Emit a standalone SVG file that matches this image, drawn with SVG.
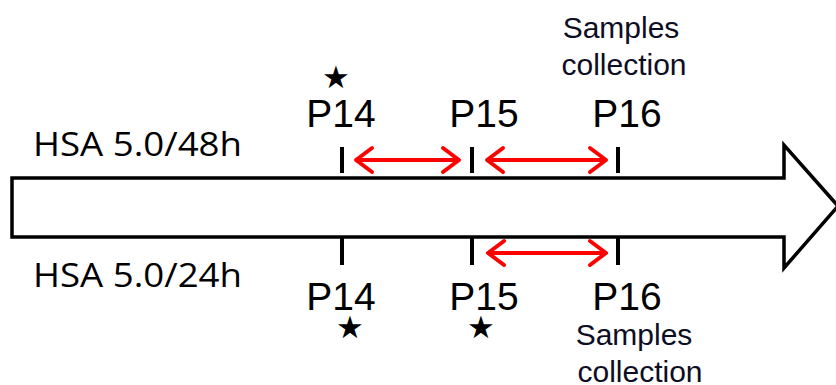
<svg xmlns="http://www.w3.org/2000/svg" width="836" height="385" viewBox="0 0 836 385">
  <defs>
    <style>
      .hsa { font-family: "Open Sans", "Liberation Sans", sans-serif; font-size: 32px; fill: #000; }
      .pl { font-family: "Liberation Sans", Arial, sans-serif; font-size: 39px; fill: #000; text-anchor: middle; }
      .sc { font-family: "Liberation Sans", Arial, sans-serif; font-size: 30px; fill: #0d0d24; text-anchor: middle; }
      .star { font-family: "DejaVu Sans", sans-serif; font-size: 31px; fill: #000; text-anchor: middle; }
      .tick { stroke: #000; stroke-width: 4; }
      .span { stroke: #ff0000; stroke-width: 4; fill: none; marker-start: url(#chev); marker-end: url(#chev); }
    </style>
    <marker id="chev" viewBox="0 0 22 30" refX="19" refY="15" markerWidth="22" markerHeight="30" markerUnits="userSpaceOnUse" orient="auto-start-reverse">
      <polyline points="3,3 19,15 3,27" fill="none" stroke="#ff0000" stroke-width="4" stroke-linecap="round" stroke-linejoin="round"/>
    </marker>
  </defs>

  <rect width="836" height="385" fill="#fff"/>

  <!-- timeline arrow -->
  <g id="timeline">
    <polygon points="12,178 784,178 784,145 838,206 784,268 784,237 12,237" fill="#fff" stroke="#000" stroke-width="3.5" stroke-linejoin="miter"/>
  </g>

  <!-- row labels -->
  <g id="label-48h">
    <text class="hsa" x="33" y="156" textLength="209" lengthAdjust="spacingAndGlyphs">HSA 5.0/48h</text>
  </g>
  <g id="label-24h">
    <text class="hsa" x="33" y="287" textLength="209" lengthAdjust="spacingAndGlyphs">HSA 5.0/24h</text>
  </g>

  <!-- upper row: passages -->
  <g id="p14-top">
    <text class="star" x="336" y="88">★</text>
    <text class="pl" x="341" y="127">P14</text>
    <line class="tick" x1="342" y1="147" x2="342" y2="173"/>
  </g>
  <g id="p15-top">
    <text class="pl" x="484" y="127">P15</text>
    <line class="tick" x1="472" y1="147" x2="472" y2="173"/>
  </g>
  <g id="p16-top">
    <text class="sc" x="621" y="38">Samples</text>
    <text class="sc" x="624" y="75">collection</text>
    <text class="pl" x="627" y="127">P16</text>
    <line class="tick" x1="618" y1="147" x2="618" y2="173"/>
  </g>

  <!-- lower row: passages -->
  <g id="p14-bottom">
    <line class="tick" x1="342" y1="238" x2="342" y2="265"/>
    <text class="pl" x="341" y="310">P14</text>
    <text class="star" x="350" y="338">★</text>
  </g>
  <g id="p15-bottom">
    <line class="tick" x1="472" y1="238" x2="472" y2="265"/>
    <text class="pl" x="484" y="310">P15</text>
    <text class="star" x="481" y="338">★</text>
  </g>
  <g id="p16-bottom">
    <line class="tick" x1="618" y1="238" x2="618" y2="265"/>
    <text class="pl" x="627" y="310">P16</text>
    <text class="sc" x="634" y="345">Samples</text>
    <text class="sc" x="640" y="382">collection</text>
  </g>

  <!-- intervals between passages -->
  <g id="connectors">
    <line class="span" x1="356" y1="160" x2="459" y2="160"/>
    <line class="span" x1="487" y1="160" x2="606" y2="160"/>
    <line class="span" x1="488" y1="253" x2="606" y2="253"/>
  </g>
</svg>
